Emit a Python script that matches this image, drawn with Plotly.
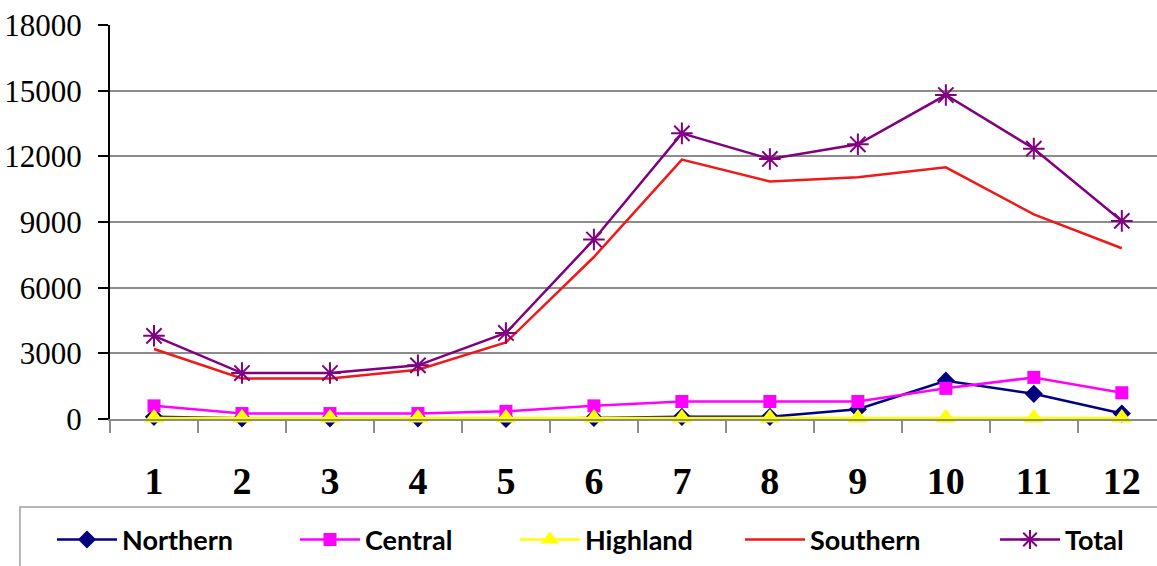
import plotly.graph_objects as go

# Monthly counts by region
months = ["1", "2", "3", "4", "5", "6", "7", "8", "9", "10", "11", "12"]
northern = [100, 30, 30, 30, 0, 50, 100, 100, 450, 1750, 1150, 250]
central = [600, 250, 250, 250, 350, 600, 800, 800, 800, 1400, 1900, 1200]
highland = [50, 50, 50, 50, 50, 50, 50, 50, 50, 50, 50, 50]
southern = [3200, 1850, 1850, 2250, 3500, 7400, 11850, 10850, 11050, 11500, 9350, 7800]
total = [3800, 2100, 2100, 2450, 3930, 8200, 13050, 11880, 12550, 14800, 12350, 9050]

y_ticks = [0, 3000, 6000, 9000, 12000, 15000, 18000]

# name, values, colour, marker symbol, marker size, legend id, legend x (paper)
series = [
    ("Northern", northern, "#000080", "diamond", 14, "legend", -0.0554),
    ("Central", central, "#ff00ff", "square", 13, "legend2", 0.1767),
    ("Highland", highland, "#ffff00", "triangle-up", 18, "legend3", 0.3868),
    ("Southern", southern, "#f01818", None, 0, "legend4", 0.6017),
    ("Total", total, "#800080", "asterisk-open", 18, "legend5", 0.8453),
]

fig = go.Figure()
legend_style = dict(
    orientation="h", xanchor="left", y=-0.307, yanchor="middle",
    itemwidth=60,
    font=dict(family="Lato", size=27, color="black", weight="bold"),
    bgcolor="rgba(0,0,0,0)", borderwidth=0,
)
legends = {}
for name, vals, color, symbol, size, leg, lx in series:
    if symbol is None:
        fig.add_trace(go.Scatter(x=months, y=vals, name=name, mode="lines",
                                 cliponaxis=False, legend=leg,
                                 line=dict(color=color, width=2.5)))
    else:
        fig.add_trace(go.Scatter(
            x=months, y=vals, name=name, mode="lines+markers",
            cliponaxis=False, legend=leg,
            line=dict(color=color, width=2.5),
            marker=dict(symbol=symbol, size=size, color=color,
                        line=dict(color=color, width=2 if "open" in symbol else 0)),
        ))
    legends[leg] = dict(legend_style, x=lx)

# Frame around the legend
fig.add_shape(type="rect", xref="paper", yref="paper",
              x0=-0.086, x1=1.02, y0=-0.2234, y1=-0.40,
              line=dict(color="#a0a0a0", width=1.5), fillcolor="rgba(0,0,0,0)")

fig.update_layout(
    width=1157, height=566,
    margin=dict(l=110, r=0, t=25, b=147, autoexpand=False),
    paper_bgcolor="white", plot_bgcolor="white",
    showlegend=True,
    xaxis=dict(
        type="category", range=[-0.5, 11.4],
        showgrid=False, zeroline=False,
        showline=True, linecolor="#8c8c8c", linewidth=2,
        ticks="outside", tickson="boundaries", ticklen=12, tickwidth=2,
        tickcolor="#8c8c8c",
        tickfont=dict(family="Liberation Serif", size=38, color="black", weight="bold"),
        ticklabelstandoff=27,
    ),
    yaxis=dict(
        range=[0, 18000], tickvals=y_ticks, ticktext=[str(v) for v in y_ticks],
        showgrid=True, gridcolor="#8c8c8c", gridwidth=2,
        zeroline=False,
        showline=True, linecolor="black", linewidth=2,
        ticks="outside", ticklen=10, tickwidth=2, tickcolor="black",
        tickfont=dict(family="Liberation Serif", size=31, color="black"),
        ticklabelstandoff=10,
    ),
    **legends,
)

fig.write_html("out.html")
